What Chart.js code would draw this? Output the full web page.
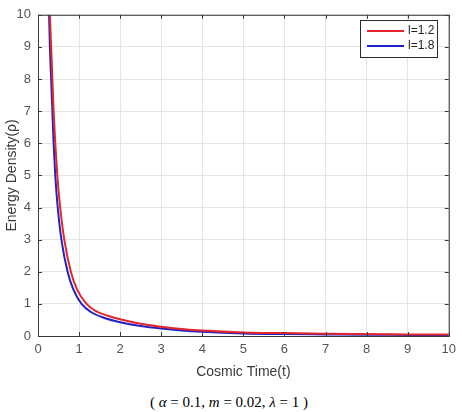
<!DOCTYPE html>
<html>
<head>
<meta charset="utf-8">
<script src="https://cdn.jsdelivr.net/npm/chart.js@4"></script>
<style>
  body { margin: 0; background: #fff; }
  #wrap { position: relative; width: 462px; height: 412px; }
  #chart { position: absolute; left: 0; top: 0; }
  #caption {
    position: absolute; left: 0; width: 458px; top: 394px; text-align: center;
    font-family: "Liberation Serif", "Times New Roman", serif; font-size: 15px; color: #000;
  }
  #caption i { font-style: italic; }
</style>
</head>
<body>
<div id="wrap">
  <canvas id="chart" width="462" height="385"></canvas>
  <div id="caption">( <i>α</i> = 0.1, <i>m</i> = 0.02, <i>λ</i> = 1 )</div>
</div>
<script>
// series (t, rho)
const seriesLabels = ['l=1.2', 'l=1.8'];
const timeRed = [0.29, 0.32, 0.35, 0.38, 0.42, 0.47, 0.54, 0.64, 0.8, 0.95, 1.18, 1.4, 1.7, 2, 2.5, 3, 3.5, 4, 5, 6, 7, 8, 9, 10];
const rhoRed  = [10, 9, 8, 7, 6, 5, 4, 3, 2, 1.45, 1, 0.78, 0.63, 0.52, 0.38, 0.29, 0.22, 0.17, 0.11, 0.09, 0.07, 0.06, 0.05, 0.05];
const timeBlue = [0.27, 0.29, 0.32, 0.35, 0.38, 0.42, 0.48, 0.57, 0.72, 0.86, 1.06, 1.3, 1.6, 2, 2.5, 3, 3.5, 4, 5, 6, 7, 8, 9, 10];
const rhoBlue  = [10, 9, 8, 7, 6, 5, 4, 3, 2, 1.45, 1, 0.74, 0.57, 0.43, 0.31, 0.23, 0.17, 0.13, 0.08, 0.06, 0.05, 0.04, 0.035, 0.03];
const xTicks = [0, 1, 2, 3, 4, 5, 6, 7, 8, 9, 10];
const yTicks = [0, 1, 2, 3, 4, 5, 6, 7, 8, 9, 10];

const colors = ['#e3262b', '#2121c8'];
const font = '"Liberation Sans", Arial, sans-serif';

function toPoints(xs, ys) {
    return xs.map((x, i) => ({ x: x, y: ys[i] }));
}

// box around the plot area + inward tick marks, like MATLAB
const boxPlugin = {
    id: 'box',
    afterDatasetsDraw(chart) {
        const { ctx, chartArea: a, scales } = chart;
        ctx.save();
        ctx.strokeStyle = '#3a3a3a';
        ctx.lineWidth = 1;
        ctx.strokeRect(a.left + 0.5, a.top + 0.5, a.right - a.left, a.bottom - a.top);
        ctx.beginPath();
        xTicks.forEach(v => {
            const x = Math.round(scales.x.getPixelForValue(v)) + 0.5;
            ctx.moveTo(x, a.bottom); ctx.lineTo(x, a.bottom - 4);
            ctx.moveTo(x, a.top); ctx.lineTo(x, a.top + 4);
        });
        yTicks.forEach(v => {
            const y = Math.round(scales.y.getPixelForValue(v)) + 0.5;
            ctx.moveTo(a.left, y); ctx.lineTo(a.left + 4, y);
            ctx.moveTo(a.right, y); ctx.lineTo(a.right - 4, y);
        });
        ctx.stroke();

        // legend box in the top right corner
        const lx = 360, ly = 20, lw = 77, lh = 37;
        ctx.fillStyle = '#fff';
        ctx.fillRect(lx, ly, lw, lh);
        ctx.strokeStyle = '#2b2b2b';
        ctx.strokeRect(lx + 0.5, ly + 0.5, lw, lh);
        ctx.font = '12px ' + font;
        ctx.textBaseline = 'middle';
        chart.data.datasets.forEach((ds, i) => {
            const y = ly + 11 + i * 15;
            ctx.strokeStyle = ds.borderColor;
            ctx.lineWidth = 2;
            ctx.beginPath();
            ctx.moveTo(lx + 7, y); ctx.lineTo(lx + 44, y);
            ctx.stroke();
            ctx.fillStyle = '#222';
            ctx.fillText(ds.label, lx + 48, y);
        });
        ctx.restore();
    }
};

new Chart(document.getElementById('chart'), {
    type: 'line',
    data: {
        datasets: [
            { label: seriesLabels[0], data: toPoints(timeRed, rhoRed), borderColor: colors[0] },
            { label: seriesLabels[1], data: toPoints(timeBlue, rhoBlue), borderColor: colors[1] }
        ]
    },
    options: {
        responsive: false,
        animation: false,
        layout: { padding: { top: 7, right: 12, left: 0, bottom: 0 } },
        elements: {
            line: { borderWidth: 2, cubicInterpolationMode: 'monotone', fill: false },
            point: { radius: 0 }
        },
        plugins: { legend: { display: false }, tooltip: { enabled: false } },
        scales: {
            x: {
                type: 'linear', min: 0, max: 10,
                afterBuildTicks: s => { s.ticks = xTicks.map(v => ({ value: v })); },
                afterFit: s => { s.height = 49; },
                grid: { color: '#e5e5e5', drawTicks: false },
                border: { display: false },
                ticks: { color: '#555', padding: 6, maxRotation: 0, font: { family: font, size: 13 } },
                title: { display: true, text: 'Cosmic Time(t)', color: '#3a3a3a', padding: { top: 1 },
                         font: { family: font, size: 14 } }
            },
            y: {
                min: 0, max: 10,
                afterBuildTicks: s => { s.ticks = yTicks.map(v => ({ value: v })); },
                afterFit: s => { s.width = 38; },
                grid: { color: '#e5e5e5', drawTicks: false },
                border: { display: false },
                ticks: { color: '#555', padding: 7, font: { family: font, size: 13 } },
                title: { display: true, text: 'Energy Density(ρ)', color: '#3a3a3a', padding: { bottom: 0 },
                         font: { family: font, size: 14 } }
            }
        }
    },
    plugins: [boxPlugin]
});
</script>
</body>
</html>
